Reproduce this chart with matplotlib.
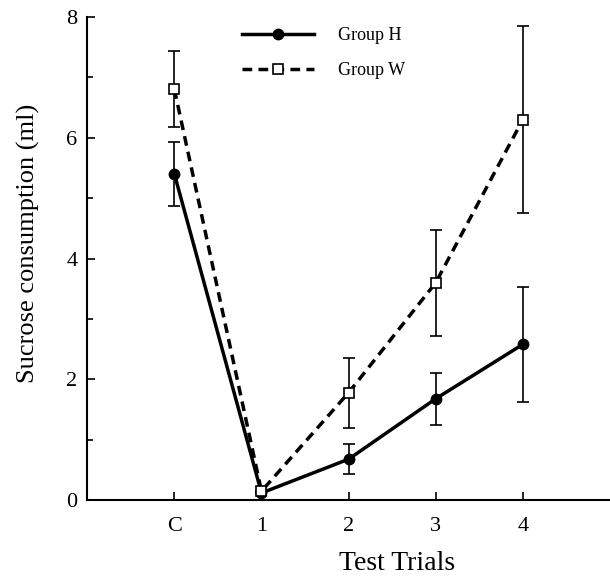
import matplotlib
matplotlib.use("Agg")
import matplotlib.pyplot as plt

plt.rcParams['font.family'] = ['Liberation Serif', 'DejaVu Serif']

trials = ['C', '1', '2', '3', '4']
xpos = [0, 1, 2, 3, 4]
group_h = [5.4, 0.12, 0.68, 1.68, 2.58]
group_h_err = [0.53, 0.0, 0.25, 0.43, 0.95]
group_w = [6.8, 0.15, 1.78, 3.6, 6.3]
group_w_err = [0.63, 0.0, 0.58, 0.88, 1.55]

fig = plt.figure(figsize=(6.1, 5.79), dpi=100)
ax = fig.add_axes([0.143, 0.136, 0.857, 0.835])

# error bars first, thin
ax.errorbar(xpos, group_h, yerr=group_h_err, fmt='none', ecolor='black',
            elinewidth=1.2, capsize=4, capthick=1.2, zorder=2)
ax.errorbar(xpos, group_w, yerr=group_w_err, fmt='none', ecolor='black',
            elinewidth=1.2, capsize=4, capthick=1.2, zorder=2)

ax.plot(xpos, group_h, '-', color='black', lw=2.5, marker='o', ms=7.5,
        mfc='black', mec='black', label='Group H', zorder=3)
ax.plot(xpos, group_w, '--', color='black', lw=2.5, dashes=(2.8, 1.8),
        marker='s', ms=7.5, mfc='white', mec='black', mew=1.2,
        label='Group W', zorder=4)

ax.set_xlim(-1, 5)
ax.set_ylim(0, 8)
ax.set_xticks(xpos)
ax.set_xticklabels(trials)
ax.set_yticks([0, 2, 4, 6, 8])
ax.set_yticks([1, 3, 5, 7], minor=True)
ax.tick_params(axis='both', which='major', direction='in', length=6,
               width=1.2, labelsize=16)
ax.tick_params(axis='x', pad=12)
ax.tick_params(axis='y', pad=7)
ax.tick_params(axis='y', which='minor', direction='in', length=4, width=1.2)

for s in ['top', 'right']:
    ax.spines[s].set_visible(False)
for s in ['left', 'bottom']:
    ax.spines[s].set_linewidth(1.5)

ax.set_xlabel('Test Trials', fontsize=20)
ax.xaxis.set_label_coords(0.593, -0.105)
ax.set_ylabel('Sucrose consumption (ml)', fontsize=19)
ax.yaxis.set_label_coords(-0.09, 0.532)

ax.legend(loc='upper left', bbox_to_anchor=(0.265, 1.012), frameon=False,
          fontsize=13, handlelength=4.0, handletextpad=1.3, labelspacing=1.0)

fig.savefig('out.png', dpi=100)
